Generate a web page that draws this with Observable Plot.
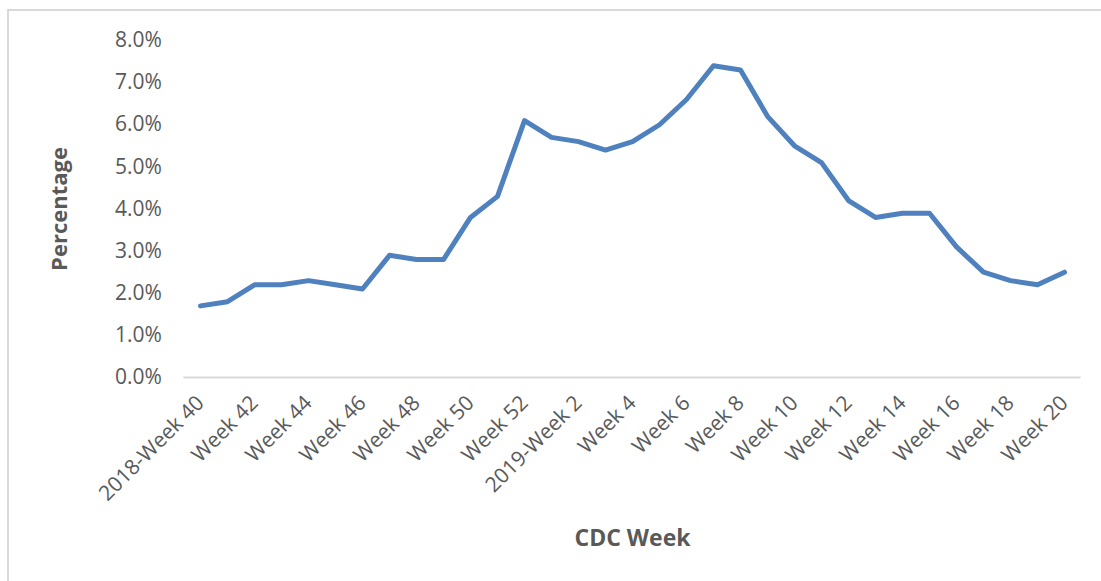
<!DOCTYPE html>
<html><head><meta charset="utf-8">
<script src="https://cdn.jsdelivr.net/npm/d3@7"></script>
<script src="https://cdn.jsdelivr.net/npm/@observablehq/plot@0.6"></script>
<style>
body{margin:0;background:#fff;}
#frame{position:absolute;left:7px;top:9px;width:1094px;height:572px;border-top:2px solid #d9d9d9;border-left:2px solid #d9d9d9;}
#chart{position:absolute;left:0;top:0;}
</style></head><body>
<div id="frame"></div><div id="chart"></div>
<script>
const weeks = ["2018-Week 40","Week 41","Week 42","Week 43","Week 44","Week 45","Week 46","Week 47","Week 48","Week 49","Week 50","Week 51","Week 52",
  "2019-Week 1","2019-Week 2","Week 3","Week 4","Week 5","Week 6","Week 7","Week 8","Week 9","Week 10","Week 11","Week 12","Week 13","Week 14","Week 15","Week 16","Week 17","Week 18","Week 19","Week 20"];
const percentages = [1.7,1.8,2.2,2.2,2.3,2.2,2.1,2.9,2.8,2.8,3.8,4.3,6.1,
  5.7,5.6,5.4,5.6,6.0,6.6,7.4,7.3,6.2,5.5,5.1,4.2,3.8,3.9,3.9,3.1,2.5,2.3,2.2,2.5];
const tickLabels = ["2018-Week 40","Week 42","Week 44","Week 46","Week 48","Week 50","Week 52","2019-Week 2","Week 4","Week 6","Week 8","Week 10","Week 12","Week 14","Week 16","Week 18","Week 20"];
const yTicks = [0,1,2,3,4,5,6,7,8];
const xTitle = "CDC Week";
const yTitle = "Percentage";

const data = weeks.map((w, i) => ({week: w, pct: percentages[i]}));

const chart = Plot.plot({
  width: 1101, height: 581,
  marginLeft: 183.4, marginRight: 20.4, marginTop: 40, marginBottom: 204,
  style: {fontFamily: "'Open Sans', sans-serif", fontSize: "21px", color: "#595959", background: "transparent", overflow: "visible"},
  x: {type: "point", domain: weeks, padding: 0.5},
  y: {domain: [0, 8]},
  marks: [
    Plot.ruleY([0], {stroke: "#d9d9d9", strokeWidth: 2}),
    Plot.axisY({ticks: yTicks, tickSize: 0, tickPadding: 22, tickFormat: d => d.toFixed(1) + "%", label: null, fill: "#595959"}),
    Plot.axisX({ticks: tickLabels, tickSize: 0, tickRotate: -45, tickPadding: 22, label: null, fill: "#595959"}),
    Plot.line(data, {x: "week", y: "pct", stroke: "#4e81bd", strokeWidth: 5, strokeLinejoin: "round", strokeLinecap: "round"}),
    Plot.text([xTitle], {frameAnchor: "bottom", dy: 168, fontWeight: "bold", fontSize: 23, fill: "#595959"}),
    Plot.text([yTitle], {frameAnchor: "left", textAnchor: "middle", dx: -124, rotate: -90, fontWeight: "bold", fontSize: 22, fill: "#595959"})
  ]
});
document.getElementById("chart").appendChild(chart);
</script>
</body></html>
